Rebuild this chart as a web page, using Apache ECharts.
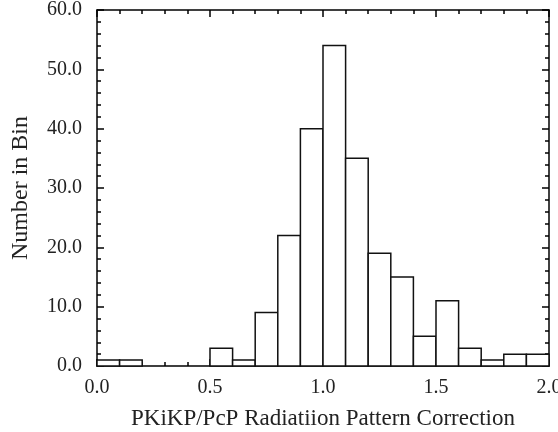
<!DOCTYPE html>
<html>
<head>
<meta charset="utf-8">
<script src="https://cdn.jsdelivr.net/npm/echarts@6/dist/echarts.min.js"></script>
<style>html,body{margin:0;padding:0;background:#fff}#c{width:558px;height:432px}</style>
</head>
<body>
<div id="c"></div>
<script>
const binStarts = [0.0,0.1,0.2,0.3,0.4,0.5,0.6,0.7,0.8,0.9,1.0,1.1,1.2,1.3,1.4,1.5,1.6,1.7,1.8,1.9];
const binWidth = 0.1;
const counts = [1,1,0,0,0,3,1,9,22,40,54,35,19,15,5,11,3,1,2,2];
const xTitle = 'PKiKP/PcP Radiatiion Pattern Correction';
const yTitle = 'Number in Bin';

const font = 'Liberation Serif';
const fs = 20;
const tfs = 23;
const chart = echarts.init(document.getElementById('c'));
const data = binStarts.map((s,i)=>[s, s+binWidth, counts[i]]);
const axisLine = {show:true, onZero:false, lineStyle:{color:'#000', width:1.5}};
const baseX = {
  type:'value', min:0, max:2, interval:0.5,
  axisLine, splitLine:{show:false},
  axisTick:{show:true, inside:true, length:7, lineStyle:{color:'#000', width:1.5}},
  minorTick:{show:true, splitNumber:5, length:4, lineStyle:{color:'#000', width:1.5}},
  minorSplitLine:{show:false}
};
const baseY = {
  type:'value', min:0, max:60, interval:10,
  axisLine, splitLine:{show:false},
  axisTick:{show:true, inside:true, length:7, lineStyle:{color:'#000', width:1.5}},
  minorTick:{show:true, splitNumber:5, length:4, lineStyle:{color:'#000', width:1.5}},
  minorSplitLine:{show:false}
};
chart.setOption({
  animation:false,
  backgroundColor:'#fff',
  grid:{left:97, top:10, right:9, bottom:66, containLabel:false, outerBoundsMode:'none'},
  xAxis:[
    Object.assign({}, baseX, {position:'bottom',
      axisLabel:{color:'#222', fontFamily:font, fontSize:fs, margin:12, formatter:v=>v.toFixed(1)},
      name:xTitle, nameLocation:'middle', nameGap:41,
      nameTextStyle:{color:'#222', fontFamily:font, fontSize:tfs}}),
    Object.assign({}, baseX, {position:'top', axisLabel:{show:false}})
  ],
  yAxis:[
    Object.assign({}, baseY, {position:'left',
      axisLabel:{color:'#222', fontFamily:font, fontSize:fs, margin:15, formatter:v=>v.toFixed(1)},
      name:yTitle, nameLocation:'middle', nameGap:64, nameRotate:90,
      nameTextStyle:{color:'#222', fontFamily:font, fontSize:24}}),
    Object.assign({}, baseY, {position:'right', axisLabel:{show:false}})
  ],
  series:[{
    type:'custom',
    xAxisIndex:0, yAxisIndex:0,
    encode:{x:[0,1], y:2},
    data,
    renderItem(params, api){
      const p0 = api.coord([api.value(0), 0]);
      const p1 = api.coord([api.value(1), api.value(2)]);
      if (api.value(2) <= 0) return null;
      return {
        type:'rect',
        shape:{x:p0[0], y:p1[1], width:p1[0]-p0[0], height:p0[1]-p1[1]},
        style:{fill:'#fff', stroke:'#111', lineWidth:1.5}
      };
    }
  }]
});
</script>
</body>
</html>
